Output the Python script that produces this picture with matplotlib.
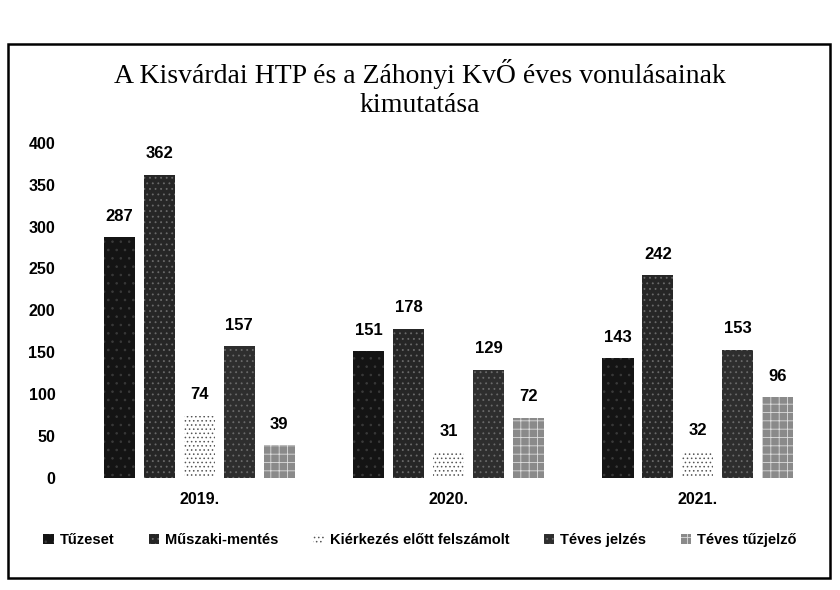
import matplotlib
matplotlib.use("Agg")
import matplotlib.pyplot as plt
import numpy as np
from matplotlib.patches import Rectangle

plt.rcParams["hatch.linewidth"] = 0.6

years = ["2019.", "2020.", "2021."]
series = ["Tűzeset", "Műszaki-mentés", "Kiérkezés előtt felszámolt",
          "Téves jelzés", "Téves tűzjelző"]
values = [
    [287, 151, 143],   # Tűzeset
    [362, 178, 242],   # Műszaki-mentés
    [74, 31, 32],      # Kiérkezés előtt felszámolt
    [157, 129, 153],   # Téves jelzés
    [39, 72, 96],      # Téves tűzjelző
]

faces = ["#141414", "#262626", "#ffffff", "#2e2e2e", "#8a8a8a"]
hatch_cols = ["#3a3a3a", "#6a6a6a", "#555555", "#6a6a6a", "#dddddd"]
hatches = ["..", "...", "....", "...", "++"]

fig = plt.figure(figsize=(8.4, 5.9), dpi=100)
ax = fig.add_axes([0.089, 0.19, 0.89, 0.568])

x = np.arange(len(years))
step = 0.16
width = 0.125
font = "Liberation Sans"
for i, name in enumerate(series):
    pos = x + (i - 2) * step
    bars = ax.bar(pos, values[i], width, color=faces[i], edgecolor=hatch_cols[i],
                  hatch=hatches[i], linewidth=0, label=name)
    for b, v in zip(bars, values[i]):
        ax.text(b.get_x() + b.get_width() / 2, v + 16, str(v), ha="center",
                va="bottom", fontsize=12, fontweight="bold", family=font)

ax.set_xlim(-0.5, 2.5)
ax.set_ylim(0, 400)
ax.set_yticks(range(0, 401, 50))
ax.set_xticks(x)
ax.set_xticklabels(years)
for s in ax.spines.values():
    s.set_visible(False)
ax.tick_params(length=0)
ax.tick_params(axis="y", pad=14)
ax.tick_params(axis="x", pad=10)
for lab in ax.get_xticklabels() + ax.get_yticklabels():
    lab.set_fontsize(11.5)
    lab.set_fontweight("bold")
    lab.set_family(font)

fig.text(0.5, 0.85, "A Kisvárdai HTP és a Záhonyi KvŐ éves vonulásainak\nkimutatása",
         ha="center", va="center", fontsize=20, family="Liberation Serif",
         linespacing=1.2)

leg = fig.legend(loc="center", bbox_to_anchor=(0.5, 0.085), ncol=5,
                 frameon=False, handlelength=0.7, handleheight=0.7,
                 columnspacing=2.4, handletextpad=0.4,
                 prop={"family": font, "size": 10.5, "weight": "bold"})

fig.add_artist(Rectangle((0.01, 0.02), 0.978, 0.905, transform=fig.transFigure,
                         fill=False, edgecolor="black", linewidth=1.8))

fig.savefig("out.png", dpi=100, facecolor="white")
